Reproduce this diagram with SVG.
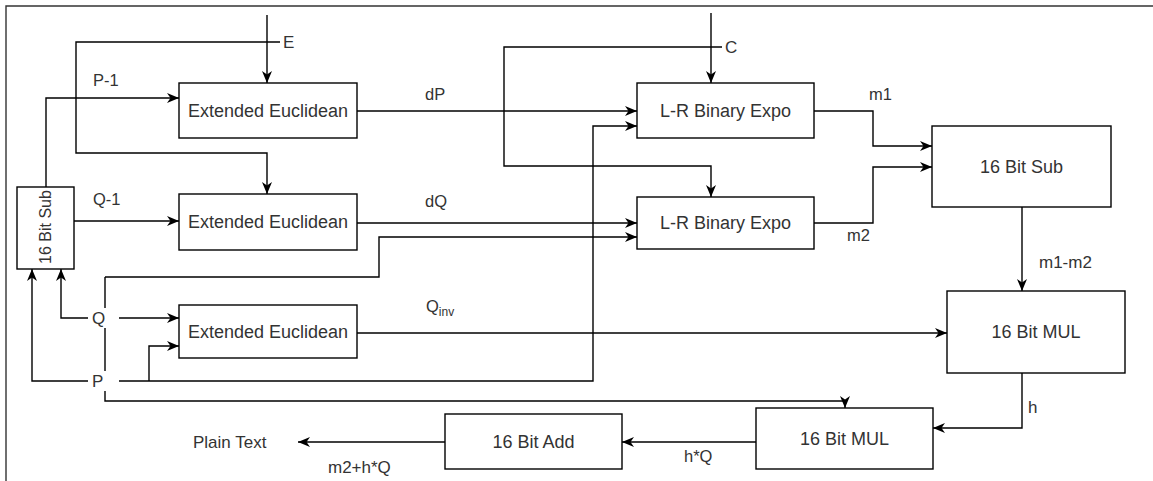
<svg xmlns="http://www.w3.org/2000/svg" width="1153" height="481" viewBox="0 0 1153 481">
<style>
.box{fill:#fff;stroke:#000;stroke-width:1.4}
.ln{fill:none;stroke:#000;stroke-width:1.4}
text{font-family:"Liberation Sans",Arial,sans-serif;font-size:17px;fill:#333}
.bt{text-anchor:middle;dominant-baseline:central;font-size:18px}
.lb{font-size:16.5px}
</style>
<defs>
<marker id="ar" markerUnits="userSpaceOnUse" markerWidth="13" markerHeight="13" viewBox="0 0 13 13" refX="12" refY="6.5" orient="auto">
<path d="M0,1.5 L12,6.5 L0,11.5 L3.5,6.5 z" fill="#000"/>
</marker>
</defs>
<rect x="0" y="0" width="1153" height="481" fill="#fff"/>
<path d="M6,481 V6 H1153" fill="none" stroke="#333" stroke-width="1.4"/>
<g id="connectors">
<path class="ln" d="M267,15 V83" marker-end="url(#ar)"/>
<path class="ln" d="M280,42 H76 V153 H267 V194" marker-end="url(#ar)"/>
<path class="ln" d="M711,13 V83" marker-end="url(#ar)"/>
<path class="ln" d="M722,47 H504 V166 H711 V197" marker-end="url(#ar)"/>
<path class="ln" d="M46,187 V98 H179" marker-end="url(#ar)"/>
<path class="ln" d="M74,221 H179" marker-end="url(#ar)"/>
<path class="ln" d="M357,111 H637" marker-end="url(#ar)"/>
<path class="ln" d="M357,223 H637" marker-end="url(#ar)"/>
<path class="ln" d="M105,277 H379 V237 H637" marker-end="url(#ar)"/>
<path class="ln" d="M105,277 V401 H845 V408" marker-end="url(#ar)"/>
<path class="ln" d="M92,381 H32 V269" marker-end="url(#ar)"/>
<path class="ln" d="M119,381 H593 V126 H637" marker-end="url(#ar)"/>
<path class="ln" d="M149,381 V346 H179" marker-end="url(#ar)"/>
<path class="ln" d="M91,318 H61 V269" marker-end="url(#ar)"/>
<path class="ln" d="M119,318 H179" marker-end="url(#ar)"/>
<path class="ln" d="M357,333 H947" marker-end="url(#ar)"/>
<path class="ln" d="M814,111 H873 V146 H932" marker-end="url(#ar)"/>
<path class="ln" d="M814,223 H873 V167 H932" marker-end="url(#ar)"/>
<path class="ln" d="M1022,207 V291" marker-end="url(#ar)"/>
<path class="ln" d="M1022,373 V428 H933" marker-end="url(#ar)"/>
<path class="ln" d="M756,442 H622" marker-end="url(#ar)"/>
<path class="ln" d="M445,442 H298" marker-end="url(#ar)"/>
</g>
<g id="labels">
<rect x="88" y="308" width="29" height="20" fill="#fff"/>
<rect x="88" y="371" width="29" height="20" fill="#fff"/>
<text x="283" y="48">E</text>
<text x="725" y="53">C</text>
<text x="92" y="318" dominant-baseline="central" font-size="18">Q</text>
<text x="92" y="381" dominant-baseline="central" font-size="18">P</text>
<text class="lb" x="93" y="86">P-1</text>
<text class="lb" x="93" y="205">Q-1</text>
<text class="lb" x="425" y="100">dP</text>
<text class="lb" x="425" y="207">dQ</text>
<text class="lb" x="426" y="312">Q<tspan font-size="12" dy="4">inv</tspan></text>
<text class="lb" x="869" y="100">m1</text>
<text class="lb" x="847" y="241">m2</text>
<text x="1039" y="268">m1-m2</text>
<text x="1028" y="413">h</text>
<text class="lb" x="684" y="462">h*Q</text>
<text x="328" y="473">m2+h*Q</text>
<text x="193" y="448">Plain Text</text>
</g>
<g id="sub16-left"><rect class="box" x="17" y="187" width="57" height="82"/><text class="bt" font-size="16" style="font-size:16px" transform="translate(45.5,227) rotate(-90)">16 Bit Sub</text></g>
<g id="ee1"><rect class="box" x="179" y="83" width="178" height="55"/><text class="bt" x="268" y="111">Extended Euclidean</text></g>
<g id="ee2"><rect class="box" x="179" y="194" width="178" height="56"/><text class="bt" x="268" y="222">Extended Euclidean</text></g>
<g id="ee3"><rect class="box" x="179" y="305" width="178" height="53"/><text class="bt" x="268" y="332">Extended Euclidean</text></g>
<g id="lr1"><rect class="box" x="637" y="83" width="177" height="55"/><text class="bt" x="725.5" y="111">L-R Binary Expo</text></g>
<g id="lr2"><rect class="box" x="637" y="197" width="177" height="52"/><text class="bt" x="725.5" y="223">L-R Binary Expo</text></g>
<g id="sub16-right"><rect class="box" x="932" y="126" width="179" height="81"/><text class="bt" x="1021.5" y="167">16 Bit Sub</text></g>
<g id="mul1"><rect class="box" x="947" y="291" width="178" height="82"/><text class="bt" x="1036" y="332">16 Bit MUL</text></g>
<g id="mul2"><rect class="box" x="756" y="408" width="177" height="61"/><text class="bt" x="844.5" y="439">16 Bit MUL</text></g>
<g id="add16"><rect class="box" x="445" y="414" width="177" height="55"/><text class="bt" x="533.5" y="442">16 Bit Add</text></g>
</svg>
